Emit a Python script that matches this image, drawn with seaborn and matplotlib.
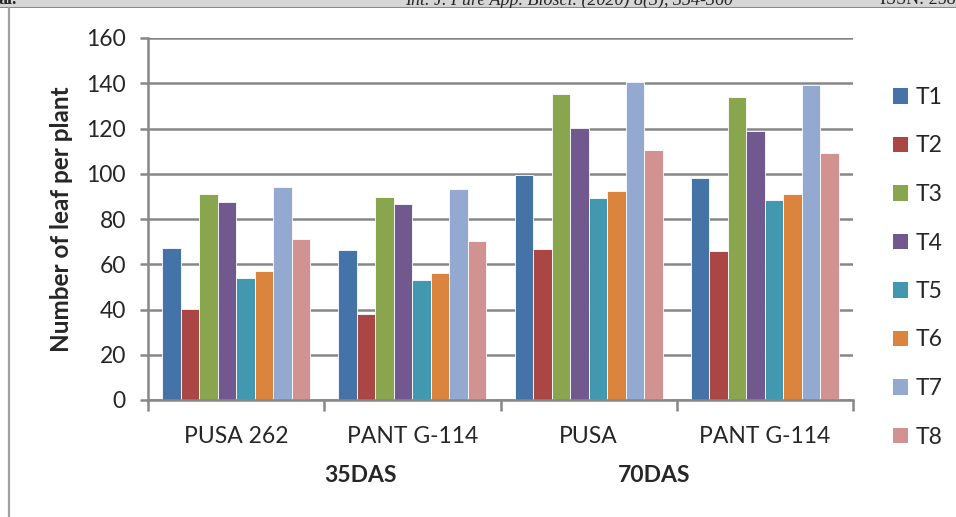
import matplotlib
matplotlib.use("Agg")
import matplotlib.pyplot as plt
from matplotlib.lines import Line2D
from matplotlib.patches import Patch
from matplotlib.ticker import FixedLocator, NullFormatter
import seaborn as sns
import pandas as pd

# Leaf counts per plant for each variety / sowing stage and treatment
categories = ["PUSA 262", "PANT G-114 ", "PUSA", "PANT G-114"]
stages = ["35DAS", "70DAS"]
treatments = ["T1", "T2", "T3", "T4", "T5", "T6", "T7", "T8"]
t1 = [67.3, 66.3, 99.4, 98.3]
t2 = [40.1, 38.0, 66.9, 65.9]
t3 = [91.0, 89.7, 135.4, 133.9]
t4 = [87.4, 86.5, 120.1, 119.0]
t5 = [53.8, 52.9, 89.4, 88.3]
t6 = [57.0, 56.0, 92.2, 91.0]
t7 = [94.1, 93.1, 140.4, 139.2]
t8 = [71.2, 70.3, 110.4, 109.0]
series = [t1, t2, t3, t4, t5, t6, t7, t8]
y_ticks = [0, 20, 40, 60, 80, 100, 120, 140, 160]

colors = ["#4572A7", "#AA4643", "#89A54E", "#71588F",
          "#4198AF", "#DB843D", "#93A9CF", "#D19392"]

rows = []
for name, vals in zip(treatments, series):
    for cat, v in zip(categories, vals):
        rows.append({"category": cat, "treatment": name, "value": v})
df = pd.DataFrame(rows)

sns.set_theme(style="white")
plt.rcParams["font.family"] = ["Lato", "DejaVu Sans"]

FS = 16.5
W, H = 956, 517
fig = plt.figure(figsize=(W / 100, H / 100), dpi=100)
ax = fig.add_axes([148 / W, 1 - 400 / H, (853 - 148) / W, (400 - 38) / H])

sns.barplot(data=df, x="category", y="value", hue="treatment",
            order=categories, hue_order=treatments, palette=colors,
            width=0.84, edgecolor="white", linewidth=0.6,
            saturation=1, errorbar=None, legend=False, ax=ax)

grid_c = "#878787"
ax.set_ylim(0, 160)
ax.set_xlim(-0.5, 3.5)
ax.set_yticks(y_ticks)
ax.set_yticklabels([str(v) for v in y_ticks], fontsize=FS)
ax.yaxis.grid(True, color=grid_c, linewidth=1.8)
ax.set_axisbelow(True)
for side in ["top", "right"]:
    ax.spines[side].set_visible(False)
for side in ["left", "bottom"]:
    ax.spines[side].set_color(grid_c)
    ax.spines[side].set_linewidth(1.8)

ax.set_xticks(range(len(categories)))
ax.set_xticklabels([c.strip() for c in categories], fontsize=FS)
ax.tick_params(axis="x", which="major", length=0, pad=19)
ax.xaxis.set_minor_locator(FixedLocator([-0.5, 0.5, 1.5, 2.5, 3.5]))
ax.xaxis.set_minor_formatter(NullFormatter())
ax.tick_params(axis="x", which="minor", length=8, width=1.8,
               color=grid_c, bottom=True)
ax.tick_params(axis="y", length=6, width=1.8, color=grid_c, left=True,
               pad=10)
ax.set_xlabel("")
ax.set_ylabel("Number of leaf per plant", fontsize=17.5, fontweight="bold")
ax.yaxis.set_label_coords((73 - 148) / 705, 0.5)

# stage labels under the category pairs
fig.text(360 / W, 1 - 476 / H, stages[0], fontsize=FS, fontweight="bold",
         ha="center", va="center")
fig.text(654 / W, 1 - 476 / H, stages[1], fontsize=FS, fontweight="bold",
         ha="center", va="center")

handles = [Patch(facecolor=c, edgecolor="none") for c in colors]
fig.legend(handles, treatments, loc="upper left",
           bbox_to_anchor=(893 / W, 1 - 87 / H), frameon=False,
           fontsize=FS, handlelength=0.65, handleheight=0.65,
           handletextpad=0.35, labelspacing=1.2, borderaxespad=0,
           borderpad=0)

# journal running header band across the top
hax = fig.add_axes([0, 1 - 8 / H, 1, 8 / H])
hax.set_facecolor("#d6d6d6")
hax.set_xlim(0, W)
hax.set_ylim(0, 8)
hax.set_xticks([])
hax.set_yticks([])
for s in hax.spines.values():
    s.set_visible(False)
hax.axhline(0.3, color="#8a8a8a", linewidth=1.5)
hfont = dict(family="Liberation Serif", fontsize=13, va="baseline",
             clip_on=True)
hax.text(-2, 3.5, "al.", fontweight="bold", **hfont)
hax.text(405, 3.5, "Int. J. Pure App. Biosci. (2020) 8(3), 354-360",
         style="italic", **hfont)
hax.text(880, 3.5, "ISSN: 2582", **hfont)

# page frame line on the left
fig.add_artist(Line2D([9 / W, 9 / W], [0, 1 - 8 / H], color="#a0a0a0",
                      linewidth=1.6, transform=fig.transFigure))

fig.savefig("out.png", dpi=100)
